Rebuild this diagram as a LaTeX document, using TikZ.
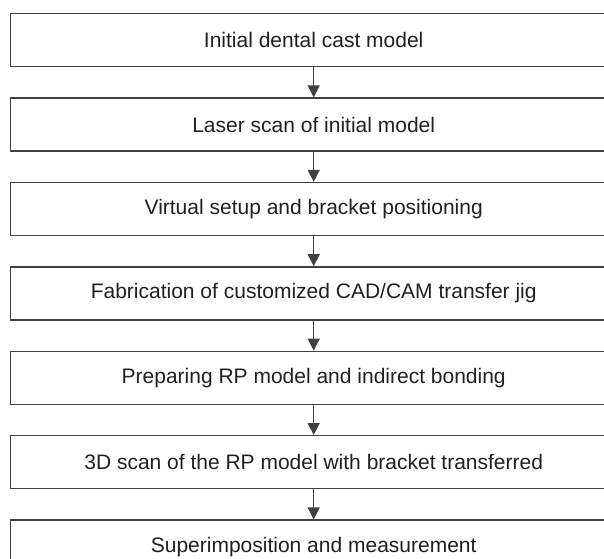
\documentclass[tikz,border=0pt]{standalone}
\usepackage{fontspec}
\setmainfont{Liberation Sans}
\usetikzlibrary{positioning,arrows.meta}
\definecolor{boxline}{HTML}{404040}
\definecolor{steptext}{HTML}{231F20}

\begin{document}
\begin{tikzpicture}[x=1pt, y=1pt,
  stepbox/.style={draw=boxline, line width=1.4pt, minimum width=606pt, minimum height=53pt,
    inner sep=0pt, font=\fontsize{21}{25}\selectfont, text=steptext},
  flow/.style={-{Triangle[length=12pt,width=12pt]}, line width=1.2pt, draw=boxline}]
  \clip (0,0) rectangle (604,-558);
  % Steps
  \node[stepbox, anchor=north west] (cast) at (10,-13) {Initial dental cast model};
  \node[stepbox, below=30pt of cast] (laser) {Laser scan of initial model};
  \node[stepbox, below=30pt of laser] (setup) {Virtual setup and bracket positioning};
  \node[stepbox, below=30pt of setup] (jig) {Fabrication of customized CAD/CAM transfer jig};
  \node[stepbox, below=30pt of jig] (bonding) {Preparing RP model and indirect bonding};
  \node[stepbox, below=30pt of bonding] (rescan) {3D scan of the RP model with bracket transferred};
  \node[stepbox, below=30pt of rescan] (measure) {Superimposition and measurement};
  % Arrows
  \draw[flow] (cast) -- (laser);
  \draw[flow] (laser) -- (setup);
  \draw[flow] (setup) -- (jig);
  \draw[flow] (jig) -- (bonding);
  \draw[flow] (bonding) -- (rescan);
  \draw[flow] (rescan) -- (measure);
\end{tikzpicture}
\end{document}
